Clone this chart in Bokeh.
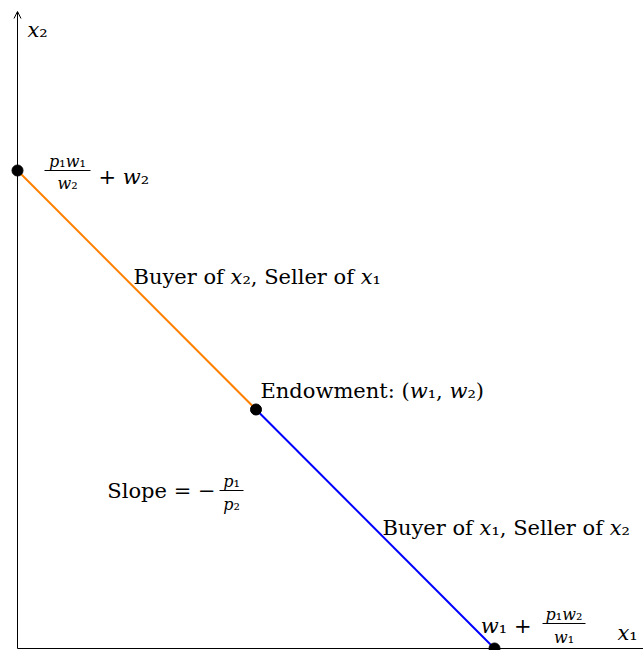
from bokeh.plotting import figure
from bokeh.models import Label, Range1d, Arrow, OpenHead, ColumnDataSource
from bokeh.embed import file_html
from bokeh.resources import INLINE

# ---------------- data ----------------
# budget line points: y-intercept, endowment, x-intercept
budget_x = [0.0, 5.0, 10.0]
budget_y = [10.0, 5.0, 0.0]
segment_colors = ["#ff8000", "#0000ff"]  # orange: buyer of x2, blue: buyer of x1

axis_label_x = "𝑥₁"
axis_label_y = "𝑥₂"
label_orange = "Buyer of 𝑥₂, Seller of 𝑥₁"
label_blue = "Buyer of 𝑥₁, Seller of 𝑥₂"
label_endow = "Endowment: (𝑤₁, 𝑤₂)"
slope_text = "Slope = −"
slope_num, slope_den = "𝑝₁", "𝑝₂"
yint_num, yint_den, yint_tail = "𝑝₁𝑤₁", "𝑤₂", "+ 𝑤₂"
xint_head, xint_num, xint_den = "𝑤₁ +", "𝑝₁𝑤₂", "𝑤₁"

# ---------------- layout ----------------
W, H = 643, 650
PX, PY = 47.7, 47.8        # pixels per data unit
OX, OY = 17, 648           # origin position inside the figure (px from left / top)
FONT = "DejaVu Serif"
BIG, SMALL = "21px", "16px"

p = figure(width=W, height=H, output_backend="svg", toolbar_location=None,
           x_range=Range1d(-OX / PX, (W - OX) / PX),
           y_range=Range1d(-(H - OY) / PY, OY / PY),
           min_border=0, outline_line_color=None)
p.axis.visible = False
p.grid.visible = False
p.background_fill_color = "white"
p.border_fill_color = "white"

x_end = (W - OX) / PX
y_top = (OY - 11) / PY

# axes
p.segment(x0=[0], y0=[0], x1=[x_end], y1=[0], line_color="black", line_width=1)
p.add_layout(Arrow(x_start=0, y_start=0, x_end=0, y_end=y_top,
                   line_color="black", line_width=1,
                   end=OpenHead(size=7, line_width=1, line_color="black")))

# budget line segments
seg = ColumnDataSource(dict(x0=budget_x[:-1], y0=budget_y[:-1],
                            x1=budget_x[1:], y1=budget_y[1:], c=segment_colors))
p.segment(x0="x0", y0="y0", x1="x1", y1="y1", line_color="c", line_width=2, source=seg)

# points
p.scatter(budget_x, budget_y, size=11, color="black")


def lab(text, ax, ay, dx, dy, size=BIG, align="left"):
    """text anchored at data point (ax, ay), shifted dx px right and dy px down"""
    p.add_layout(Label(x=ax, y=ay, x_offset=dx, y_offset=-dy, text=text,
                       text_font=FONT, text_font_size=size, text_color="black",
                       text_align=align, text_baseline="alphabetic"))


bars = dict(x0=[], y0=[], x1=[], y1=[])


def bar(ax, ay, dx0, dx1, dy):
    bars["x0"].append(ax + dx0 / PX)
    bars["x1"].append(ax + dx1 / PX)
    bars["y0"].append(ay - dy / PY)
    bars["y1"].append(ay - dy / PY)


yi = (budget_x[0], budget_y[0])
en = (budget_x[1], budget_y[1])
xi = (budget_x[2], budget_y[2])
mid_o = ((budget_x[0] + budget_x[1]) / 2, (budget_y[0] + budget_y[1]) / 2)
mid_b = ((budget_x[1] + budget_x[2]) / 2, (budget_y[1] + budget_y[2]) / 2)

# axis labels
lab(axis_label_y, 0, y_top, 10, 18)
lab(axis_label_x, xi[0], xi[1], 123, -16)

# y-intercept fraction
lab(yint_num, *yi, 50, -9, SMALL, "center")
lab(yint_den, *yi, 50, 13, SMALL, "center")
bar(*yi, 27, 73, 0)
lab(yint_tail, *yi, 81, 6)

# segment labels
lab(label_orange, *mid_o, -3.25, -13.5)
lab(label_blue, *mid_b, 7.25, -1.5)
lab(label_endow, *en, 4.5, -19)

# slope
lab(slope_text, *en, -40.5, 81, BIG, "right")
lab(slope_num, *en, -24.5, 72, SMALL, "center")
lab(slope_den, *en, -24.5, 95, SMALL, "center")
bar(*en, -36.5, -12.5, 81)

# x-intercept
lab(xint_head, *xi, 37, -23, BIG, "right")
lab(xint_num, *xi, 69.5, -34, SMALL, "center")
lab(xint_den, *xi, 69.5, -11, SMALL, "center")
bar(*xi, 48, 91, -25)

p.segment(x0="x0", y0="y0", x1="x1", y1="y1", source=ColumnDataSource(bars),
          line_color="black", line_width=1)

open("out.html", "w").write(file_html(p, INLINE))
